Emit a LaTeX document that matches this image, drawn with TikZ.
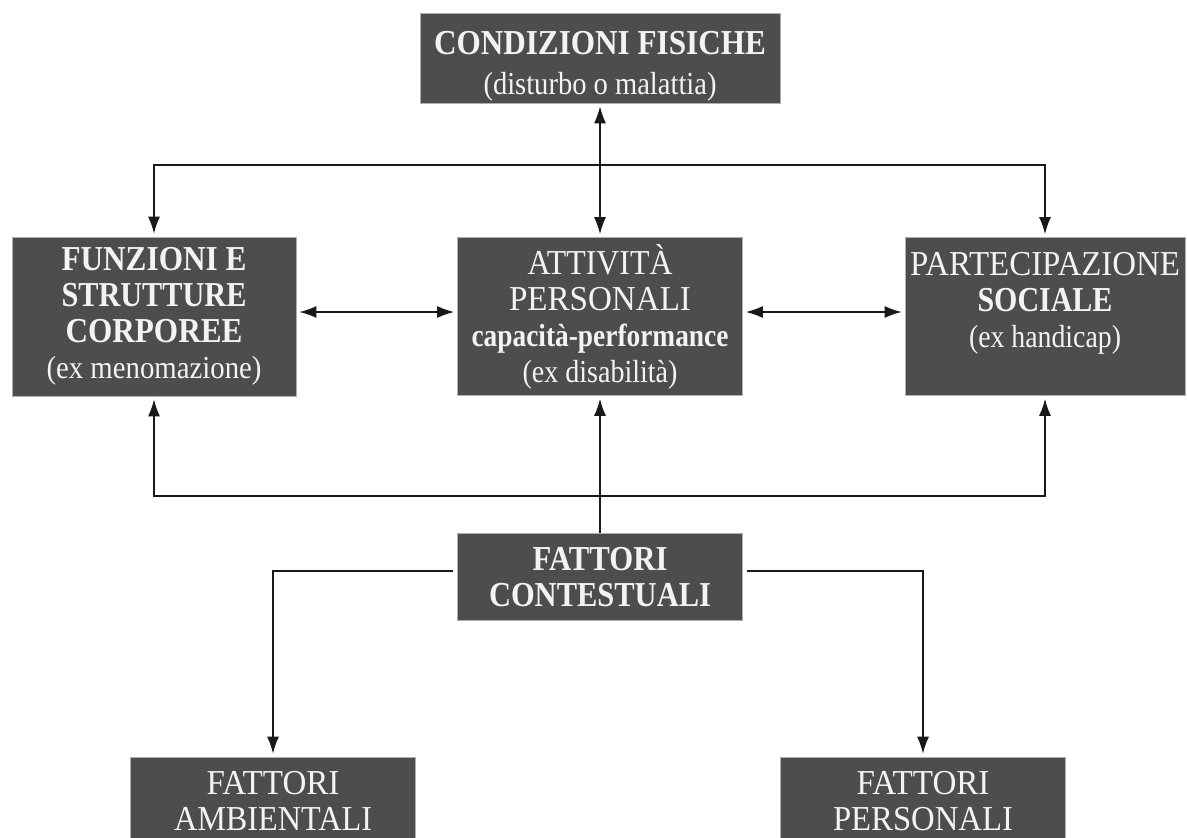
\documentclass[tikz,border=0pt]{standalone}
\usepackage{fontspec}
\setmainfont{Liberation Serif}
\usepackage{graphicx}
\usetikzlibrary{arrows.meta,calc}
\newcommand\fl[2]{\setbox0=\hbox{#2}\pgfmathsetmacro\flf{#1/\the\wd0}\scalebox{\flf}[1]{\box0}}
\newcommand\lc{\fontsize{32}{36}\selectfont}
\definecolor{boxfill}{RGB}{77,77,77}
\definecolor{boxedge}{RGB}{175,175,175}
\definecolor{txtc}{RGB}{243,243,243}
\definecolor{lnc}{RGB}{25,25,25}
\begin{document}
\begin{tikzpicture}[x=1pt,y=-1pt,
  box/.style={rectangle, fill=boxfill, draw=boxedge, line width=0.7pt, text=txtc,
    align=center, inner sep=0pt, font=\fontsize{35}{36}\selectfont},
  conn/.style={draw=lnc, line width=1.4pt},
  tip/.style={-{Latex[length=17pt,width=12pt]}, shorten >=3pt},
  dtip/.style={{Latex[length=17pt,width=12pt]}-{Latex[length=17pt,width=12pt]}, shorten >=3pt, shorten <=3pt}]
\useasboundingbox (0,0) rectangle (1187,838);
\clip (0,0) rectangle (1187,838);
\fill[white] (0,0) rectangle (1187,838);

\node[box, font=\fontsize{35}{40}\selectfont, minimum width=360pt, minimum height=90pt] (cond) at (600,58)
  {\fl{332}{\rule{0pt}{40pt}\bfseries CONDIZIONI FISICHE}\\ \fl{233}{\lc (disturbo o malattia)}};

\node[box, minimum width=284pt, minimum height=159pt] (funz) at (154,316.5)
  {\fl{185}{\bfseries FUNZIONI E}\\ \fl{185}{\bfseries STRUTTURE}\\ \fl{177}{\bfseries CORPOREE}\\ \fl{215}{\lc (ex menomazione)}};

\node[box, minimum width=285pt, minimum height=158pt] (att) at (600,316.5)
  {\fl{145}{ATTIVITÀ}\\ \fl{182}{PERSONALI}\\ \fl{257}{\lc\bfseries capacità-performance}\\ \fl{155}{\lc (ex disabilità)}};

\node[box, minimum width=280pt, minimum height=158pt] (part) at (1045,316.5)
  {\fl{270}{PARTECIPAZIONE}\\ \fl{135}{\bfseries SOCIALE}\\ \fl{152}{\lc (ex handicap)\rule[-34pt]{0pt}{34pt}}};

\node[box, minimum width=285pt, minimum height=87pt] (cont) at (600,577)
  {\fl{135}{\bfseries FATTORI}\\ \fl{222}{\bfseries CONTESTUALI}};

\node[box, minimum width=285pt, minimum height=88pt] (amb) at (273,801)
  {\fl{133}{FATTORI}\\ \fl{198}{AMBIENTALI}};

\node[box, minimum width=285pt, minimum height=88pt] (pers) at (923,801)
  {\fl{133}{FATTORI}\\ \fl{180}{PERSONALI}};

% top connectors
\draw[conn, dtip] (cond.south) -- (att.north);
\coordinate (jt) at (600,165);
\draw[conn, tip] (jt) -| (funz.north);
\draw[conn, tip] (jt) -| (part.north);

% horizontal connectors
\draw[conn, dtip] ([yshift=4.5pt]funz.east) -- ([yshift=4.5pt]att.west);
\draw[conn, dtip] ([yshift=4.5pt]att.east) -- ([yshift=4.5pt]part.west);

% lower bus
\draw[conn, tip] (cont.north) -- (att.south);
\coordinate (jb) at (600,496);
\draw[conn, tip] (jb) -| (funz.south);
\draw[conn, tip] (jb) -| (part.south);

% contextual factors
\draw[conn, tip, shorten <=4pt] ([yshift=6pt]cont.west) -| (amb.north);
\draw[conn, tip, shorten <=4pt] ([yshift=6pt]cont.east) -| (pers.north);
\end{tikzpicture}
\end{document}
